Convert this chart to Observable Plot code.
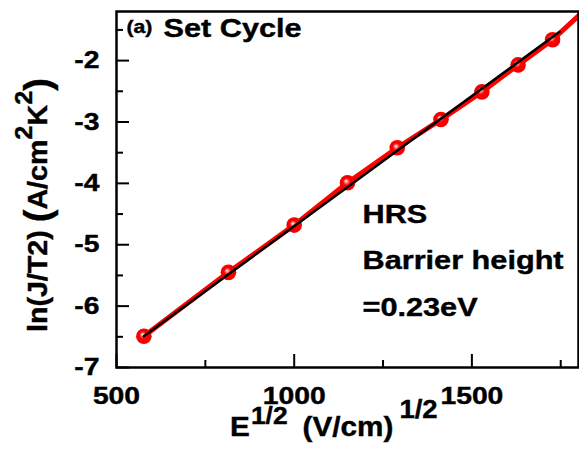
<!DOCTYPE html>
<html>
<head>
<meta charset="utf-8">
<script src="https://cdn.jsdelivr.net/npm/d3@7"></script>
<script src="https://cdn.jsdelivr.net/npm/@observablehq/plot@0.6"></script>
<style>
  body { margin: 0; background: #fff; }
  svg { display: block; }
  svg text { stroke: #000; stroke-width: 0.4px; paint-order: stroke; }
</style>
</head>
<body>
<div id="chart"></div>
<script>
// Schottky emission plot, set cycle (HRS)
const sqrtE = [577, 815, 1000, 1150, 1290, 1413, 1528, 1630, 1727];
const lnJT2 = [-6.49, -5.45, -4.68, -3.99, -3.42, -2.96, -2.51, -2.07, -1.66];
// red trace runs on past the last measurement to the frame edge
const traceX = [...sqrtE, 1800];
const traceY = [...lnJT2, -1.27];
// straight-line fit
const fitX = [577, 1747];
const fitY = [-6.49, -1.53];
const xMajor = [500, 1000, 1500];
const xMinor = [750, 1250, 1750];
const yMajor = [-7, -6, -5, -4, -3, -2];
const yMinor = [-6.5, -5.5, -4.5, -3.5, -2.5, -1.5];
const panelTag = "(a)";
const panelTitle = "Set Cycle";
const notes = ["HRS", "Barrier height", "=0.23eV"];

const W = 579, H = 450;
const mL = 116, mT = 11, mR = 1, mB = 83;
const plotW = W - mL - mR, plotH = H - mT - mB;
const STRETCH = 1.18;

const points = sqrtE.map((x, i) => ({x, y: lnJT2[i]}));
const trace = traceX.map((x, i) => ({x, y: traceY[i]}));
const fit = fitX.map((x, i) => ({x, y: fitY[i]}));

// sphere-like shading for the markers
const ballDefs = () => {
  const defs = d3.create("svg:defs");
  const g = defs.append("radialGradient").attr("id", "ball")
    .attr("cx", "0.5").attr("cy", "0.5").attr("r", "0.5")
    .attr("fx", "0.4").attr("fy", "0.38");
  g.append("stop").attr("offset", "0").attr("stop-color", "#ffffff");
  g.append("stop").attr("offset", "0.2").attr("stop-color", "#ff8080");
  g.append("stop").attr("offset", "0.45").attr("stop-color", "#ff0000");
  g.append("stop").attr("offset", "1").attr("stop-color", "#f20000");
  return defs.node();
};

const chart = Plot.plot({
  width: W,
  height: H,
  marginLeft: mL,
  marginTop: mT,
  marginRight: mR,
  marginBottom: mB,
  style: {fontFamily: "'Liberation Sans', Arial, sans-serif", fontWeight: "bold", color: "#000", background: "#fff"},
  x: {domain: [500, 1800], axis: null},
  y: {domain: [-7, -1.2], axis: null},
  marks: [
    ballDefs,
    Plot.line(trace, {x: "x", y: "y", stroke: "#ff0000", strokeWidth: 5, clip: true}),
    Plot.dot(points, {x: "x", y: "y", r: 7.8, fill: "url(#ball)", stroke: "none"}),
    Plot.line(fit, {x: "x", y: "y", stroke: "#000", strokeWidth: 2.5}),
    // inward ticks
    Plot.tickX(xMajor, {x: d => d, stroke: "#000", strokeWidth: 2, insetTop: plotH - 13}),
    Plot.tickX(xMinor, {x: d => d, stroke: "#000", strokeWidth: 2, insetTop: plotH - 7}),
    Plot.tickY(yMajor, {y: d => d, stroke: "#000", strokeWidth: 2, insetRight: plotW - 13}),
    Plot.tickY(yMinor, {y: d => d, stroke: "#000", strokeWidth: 2, insetRight: plotW - 7}),
    Plot.frame({stroke: "#000", strokeWidth: 2.5}),
    // tick labels
    Plot.text(xMajor, {x: d => d, text: d => String(d), frameAnchor: "bottom", lineAnchor: "top", dy: 19, fontSize: 24, fill: "#000"}),
    Plot.text(yMajor, {y: d => d, text: d => String(d), frameAnchor: "left", textAnchor: "end", dx: -17, fontSize: 24, fill: "#000"}),
    // panel heading
    Plot.text([panelTag], {text: d => d, frameAnchor: "top-left", textAnchor: "start", lineAnchor: "top", dx: 10, dy: 9, fontSize: 18, fill: "#000"}),
    Plot.text([panelTitle], {text: d => d, frameAnchor: "top-left", textAnchor: "start", lineAnchor: "top", dx: 47, dy: 7, fontSize: 26, fill: "#000"}),
    // annotation block
    Plot.text([notes.join("\n")], {text: d => d, frameAnchor: "top-left", textAnchor: "start", lineAnchor: "top", dx: 246, dy: 178, fontSize: 26, lineHeight: 1.79, fill: "#000"})
  ]
});

// widen the lettering a little around each label's anchor
d3.select(chart).selectAll("text").each(function () {
  const tr = this.getAttribute("transform") || "";
  this.setAttribute("transform", `${tr} scale(${STRETCH},1)`);
});

const svg = d3.select(chart);

// x-axis title: E^(1/2) (V/cm)^(1/2)
const xt = svg.append("g").attr("transform", `translate(230,436) scale(1.1,1)`)
  .append("text").attr("text-anchor", "start").attr("font-size", 27).attr("font-weight", "bold").attr("fill", "#000");
xt.append("tspan").attr("x", 0).attr("y", 0).text("E");
xt.append("tspan").attr("x", 19).attr("y", -12).attr("font-size", 24).text("1/2");
xt.append("tspan").attr("x", 66).attr("y", 0).text("(V/cm)");
xt.append("tspan").attr("x", 154).attr("y", -18).attr("font-size", 25).text("1/2");

// y-axis title: ln(J/T2) (A/cm^2 K^2)
const yt = svg.append("g").attr("transform", `translate(47,332) rotate(-90) scale(1.06,1.03)`)
  .append("text").attr("text-anchor", "start").attr("font-size", 27).attr("font-weight", "bold").attr("fill", "#000");
yt.append("tspan").text("ln(J/T2) ");
yt.append("tspan").attr("font-size", 36).attr("dy", 3).text("(");
yt.append("tspan").attr("dy", -3).text("A/cm");
yt.append("tspan").attr("font-size", 24).attr("dy", -15).text("2");
yt.append("tspan").attr("dy", 15).text("K");
yt.append("tspan").attr("font-size", 24).attr("dy", -15).text("2");
yt.append("tspan").attr("font-size", 36).attr("dy", 18).text(")");

document.getElementById("chart").append(chart);
</script>
</body>
</html>
